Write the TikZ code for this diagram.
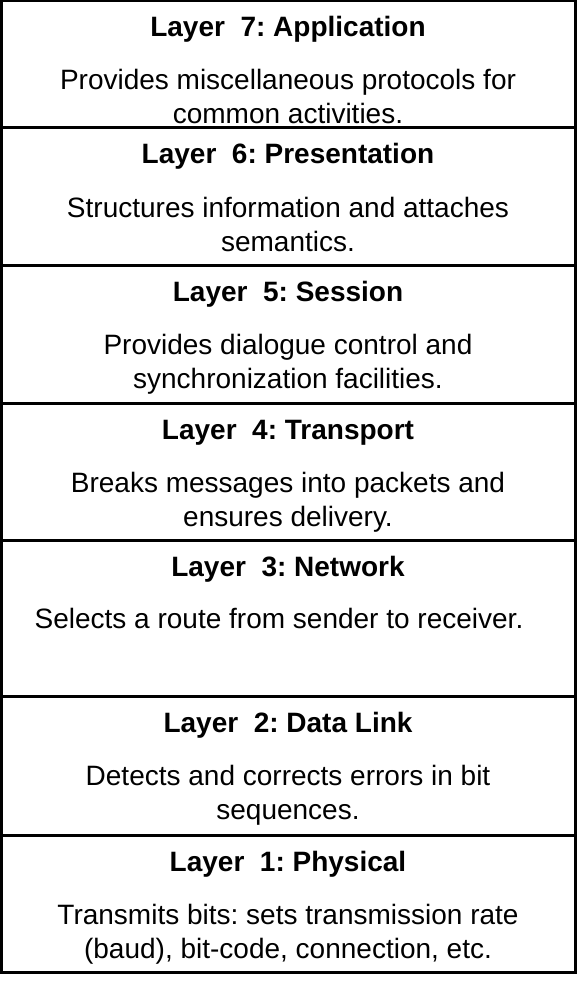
\documentclass[tikz,border=0pt]{standalone}
\usepackage{fontspec}
\setmainfont{Liberation Sans}
\frenchspacing
\begin{document}
\begin{tikzpicture}[x=0.5pt,y=-0.5pt,
  layerbox/.style={draw=black, line width=1.5pt, fill=white, inner sep=0pt,
    minimum width=287pt, rectangle},
  layertitle/.style={font=\fontsize{14pt}{17pt}\selectfont\bfseries, inner sep=0pt, anchor=base},
  layertext/.style={font=\fontsize{14pt}{17pt}\selectfont, align=center, inner sep=0pt, anchor=base}]
  \useasboundingbox[fill=white] (0,0) rectangle (577,984);

  % layer frames, top to bottom
  \node[layerbox, minimum height=63.5pt] (L7) at (288,64.5) {};
  \node[layerbox, minimum height=68.5pt] (L6) at (288,196.5) {};
  \node[layerbox, minimum height=69pt]   (L5) at (288,334) {};
  \node[layerbox, minimum height=68.5pt] (L4) at (288,471.5) {};
  \node[layerbox, minimum height=78pt]   (L3) at (288,618) {};
  \node[layerbox, minimum height=69.5pt] (L2) at (288,765.5) {};
  \node[layerbox, minimum height=68.5pt] (L1) at (288,903.5) {};

  % titles
  \node[layertitle] (T7) at (288,37)  {Layer\ \ 7: Application};
  \node[layertitle] (T6) at (288,164) {Layer\ \ 6: Presentation};
  \node[layertitle] (T5) at (288,301) {Layer\ \ 5: Session};
  \node[layertitle] (T4) at (288,439) {Layer\ \ 4: Transport};
  \node[layertitle] (T3) at (288,576) {Layer\ \ 3: Network};
  \node[layertitle] (T2) at (288,732) {Layer\ \ 2: Data Link};
  \node[layertitle] (T1) at (288,871) {Layer\ \ 1: Physical};

  % descriptions (base anchor sits on the last line)
  \node[layertext] (D7) at (288,124) {Provides miscellaneous protocols for\\common activities.};
  \node[layertext] (D6) at (288,251) {Structures information and attaches\\semantics.};
  \node[layertext] (D5) at (288,388) {Provides dialogue control and\\synchronization facilities.};
  \node[layertext] (D4) at (288,526) {Breaks messages into packets and\\ensures delivery.};
  \node[layertext] (D3) at (279,628) {Selects a route from sender to receiver.};
  \node[layertext] (D2) at (288,819) {Detects and corrects errors in bit\\sequences.};
  \node[layertext] (D1) at (288,958) {Transmits bits: sets transmission rate\\(baud), bit-code, connection, etc.};
\end{tikzpicture}
\end{document}
